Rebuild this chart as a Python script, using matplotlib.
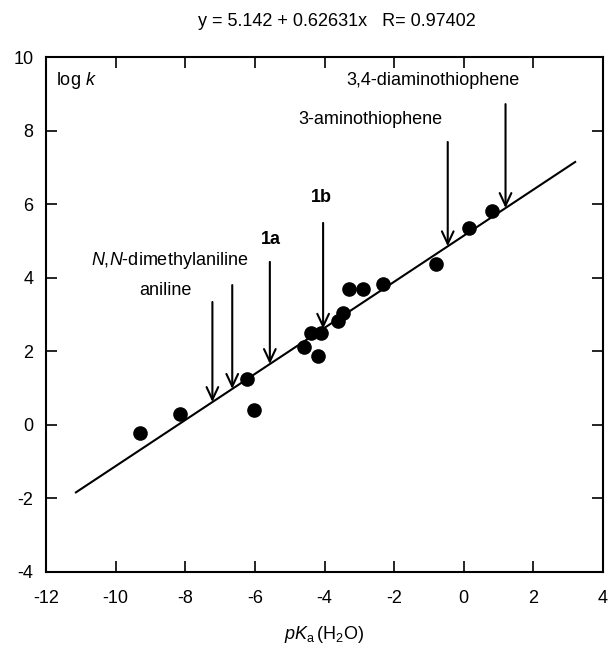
import matplotlib
matplotlib.use("Agg")
import matplotlib.pyplot as plt
import numpy as np

plt.rcParams['font.family'] = ['Liberation Sans', 'DejaVu Sans']
plt.rcParams['mathtext.fontset'] = 'custom'
plt.rcParams['mathtext.rm'] = 'Liberation Sans'
plt.rcParams['mathtext.it'] = 'Liberation Sans:italic'
plt.rcParams['mathtext.bf'] = 'Liberation Sans:bold'
plt.rcParams['axes.unicode_minus'] = False

# data
pka = [-9.30, -8.15, -6.23, -6.02, -4.59, -4.39, -4.10, -4.19, -3.61, -3.47,
       -3.30, -2.89, -2.32, -0.80, 0.15, 0.81]
logk = [-0.22, 0.30, 1.25, 0.40, 2.12, 2.50, 2.50, 1.87, 2.82, 3.04,
        3.69, 3.69, 3.83, 4.37, 5.35, 5.81]

intercept = 5.142
slope = 0.62631
fit_range = [-11.14, 3.2]

arrow_names = ['aniline', 'N,N-dimethylaniline', '1a', '1b',
               '3-aminothiophene', '3,4-diaminothiophene']
arrow_x = [-7.22, -6.65, -5.57, -4.04, -0.46, 1.20]
arrow_top = [3.34, 3.80, 4.43, 5.49, 7.69, 8.72]
label_x = [-8.58, -8.44, -5.54, -4.10, -2.69, -0.87]
label_y = [3.64, 4.48, 5.03, 6.17, 8.29, 9.35]

fig = plt.figure(figsize=(6.09, 6.52), dpi=100)
ax = fig.add_axes([46/609, 1-572/652, (603-46)/609, (572-57)/652])

xf = np.array(fit_range)
ax.plot(xf, intercept + slope*xf, color='black', lw=1.5, zorder=2)
ax.plot(pka, logk, 'o', color='black', markersize=9.5, zorder=3)

for name, xa, top in zip(arrow_names, arrow_x, arrow_top):
    tip = intercept + slope*xa
    ax.annotate('', xy=(xa, tip), xytext=(xa, top),
                arrowprops=dict(arrowstyle='->,head_length=0.9,head_width=0.42',
                                color='black', lw=1.5, shrinkA=0, shrinkB=0))

fs = 13
ax.text(label_x[0], label_y[0], 'aniline', ha='center', va='center', fontsize=fs)
ax.text(label_x[1], label_y[1], r'$\it{N}$,$\it{N}$' + '-dimethylaniline', ha='center', va='center', fontsize=fs)
ax.text(label_x[2], label_y[2], '1a', ha='center', va='center', fontsize=fs, fontweight='bold')
ax.text(label_x[3], label_y[3], '1b', ha='center', va='center', fontsize=fs, fontweight='bold')
ax.text(label_x[4], label_y[4], '3-aminothiophene', ha='center', va='center', fontsize=fs)
ax.text(label_x[5], label_y[5], '3,4-diaminothiophene', ha='center', va='center', fontsize=fs)

ax.text(0.018, 0.955, r'log $\it{k}$', transform=ax.transAxes, ha='left', va='center', fontsize=fs)

ax.set_xlim(-12, 4)
ax.set_ylim(-4, 10)
ax.set_xticks(np.arange(-12, 5, 2))
ax.set_yticks(np.arange(-4, 11, 2))
ax.tick_params(direction='in', length=8, width=1.2, top=True, right=True,
               labelsize=fs)
ax.tick_params(axis='x', pad=13)
ax.tick_params(axis='y', pad=9)
for s in ax.spines.values():
    s.set_linewidth(1.5)

ax.set_xlabel(r'$\it{pK}_{\rm a}\,\rm (H_2O)$', fontsize=fs, labelpad=12)
fig.text(337/609, 1-22/652, 'y = 5.142 + 0.62631x   R= 0.97402',
         ha='center', va='center', fontsize=fs)

fig.savefig('out.png', dpi=100)
